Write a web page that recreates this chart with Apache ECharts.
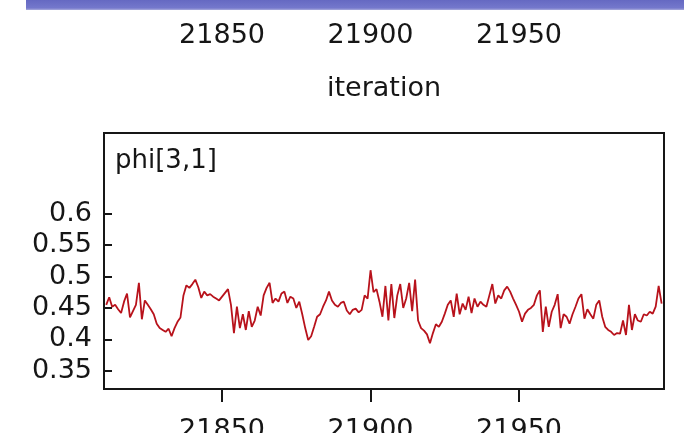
<!DOCTYPE html>
<html>
<head>
<meta charset="utf-8">
<script src="https://cdn.jsdelivr.net/npm/echarts@6/dist/echarts.min.js"></script>
<style>
  html, body { margin: 0; padding: 0; background: #ffffff; }
  #chart { width: 684px; height: 433px; }
</style>
</head>
<body>
<div id="chart"></div>
<script>
// MCMC history trace for phi[3,1], iterations 21811..21998
const firstIteration = 21811;
const phiValues = [
  0.455, 0.467, 0.452, 0.455, 0.448, 0.442, 0.460, 0.473, 0.435, 0.445,
  0.455, 0.490, 0.432, 0.462, 0.455, 0.448, 0.440, 0.425, 0.418, 0.415,
  0.412, 0.417, 0.405, 0.418, 0.428, 0.435, 0.470, 0.486, 0.482, 0.488,
  0.495, 0.483, 0.466, 0.476, 0.470, 0.472, 0.468, 0.465, 0.462, 0.468,
  0.474, 0.480, 0.455, 0.410, 0.452, 0.418, 0.440, 0.415, 0.445, 0.420,
  0.430, 0.452, 0.438, 0.470, 0.482, 0.490, 0.458, 0.465, 0.460, 0.473,
  0.476, 0.458, 0.468, 0.465, 0.450, 0.460, 0.440, 0.418, 0.399, 0.405,
  0.420, 0.436, 0.440, 0.452, 0.462, 0.476, 0.462, 0.455, 0.452, 0.458,
  0.460, 0.446, 0.440, 0.447, 0.449, 0.443, 0.447, 0.470, 0.465, 0.510,
  0.475, 0.480, 0.460, 0.436, 0.485, 0.430, 0.488, 0.434, 0.470, 0.488,
  0.450, 0.465, 0.490, 0.445, 0.495, 0.430, 0.418, 0.414, 0.408, 0.394,
  0.410, 0.424, 0.420, 0.428, 0.441, 0.455, 0.462, 0.436, 0.473, 0.440,
  0.457, 0.447, 0.468, 0.442, 0.465, 0.452, 0.460, 0.455, 0.452, 0.470,
  0.488, 0.457, 0.470, 0.465, 0.478, 0.484, 0.476, 0.465, 0.455, 0.444,
  0.428, 0.441, 0.447, 0.450, 0.455, 0.470, 0.478, 0.412, 0.452, 0.420,
  0.444, 0.455, 0.472, 0.418, 0.440, 0.436, 0.425, 0.440, 0.452, 0.465,
  0.472, 0.433, 0.448, 0.440, 0.433, 0.455, 0.462, 0.436, 0.420, 0.415,
  0.412, 0.407, 0.410, 0.409, 0.430, 0.407, 0.455, 0.415, 0.440, 0.430,
  0.428, 0.440, 0.438, 0.444, 0.441, 0.452, 0.485, 0.457
];
const iterationTicks = [21850, 21900, 21950];
const phiTicks = [0.35, 0.4, 0.45, 0.5, 0.55, 0.6];
const iterationRange = [21810.25, 21998.8];
const phiRange = [0.3211, 0.7283];
const seriesLabel = 'phi[3,1]';
const axisTitle = 'iteration';

const tracePoints = phiValues.map((v, i) => [firstIteration + i, v]);

const FONT = 'DejaVu Sans';
const INK = '#161616';

const chart = echarts.init(document.getElementById('chart'), null, { renderer: 'canvas' });

chart.setOption({
  backgroundColor: '#ffffff',
  animation: false,
  title: {
    text: seriesLabel,
    left: 115,
    top: 148,
    padding: 0,
    textStyle: { fontFamily: FONT, fontSize: 26, fontWeight: 'normal', color: INK }
  },
  graphic: [{
    type: 'rect',
    shape: { x: 26, y: 0, width: 658, height: 10 },
    style: {
      fill: new echarts.graphic.LinearGradient(0, 0, 0, 1, [
        { offset: 0, color: '#6569c2' },
        { offset: 0.8, color: '#7478cc' },
        { offset: 1, color: '#a9acdc' }
      ])
    },
    silent: true
  }],
  grid: [
    // upper panel: only its iteration axis is in view
    { left: 104, right: 20, top: -50, height: 60, show: false,
      outerBoundsMode: 'none', containLabel: false },
    // phi[3,1] panel
    { left: 104, right: 20, top: 133, bottom: 44, show: true,
      outerBoundsMode: 'none', containLabel: false,
      borderColor: INK, borderWidth: 2, backgroundColor: '#ffffff' }
  ],
  xAxis: [
    {
      gridIndex: 0, type: 'value', min: iterationRange[0], max: iterationRange[1],
      axisLine: { show: false }, axisTick: { show: false }, splitLine: { show: false },
      axisLabel: {
        customValues: iterationTicks, margin: 12,
        fontFamily: FONT, fontSize: 27, color: INK,
        formatter: v => String(v)
      },
      name: axisTitle, nameLocation: 'middle', nameGap: 65,
      nameTextStyle: { fontFamily: FONT, fontSize: 27, color: INK }
    },
    {
      gridIndex: 1, type: 'value', min: iterationRange[0], max: iterationRange[1],
      axisLine: { show: false }, splitLine: { show: false },
      axisTick: {
        show: true, inside: false, length: 13, customValues: iterationTicks,
        lineStyle: { color: INK, width: 2 }
      },
      axisLabel: {
        customValues: iterationTicks, margin: 28,
        fontFamily: FONT, fontSize: 27, color: INK,
        formatter: v => String(v)
      }
    }
  ],
  yAxis: [
    { gridIndex: 0, type: 'value', show: false, min: 0, max: 1 },
    {
      gridIndex: 1, type: 'value', min: phiRange[0], max: phiRange[1],
      axisLine: { show: false }, splitLine: { show: false },
      axisTick: {
        show: true, inside: true, length: 8, customValues: phiTicks,
        lineStyle: { color: INK, width: 2 }
      },
      axisLabel: {
        customValues: phiTicks, margin: 12,
        fontFamily: FONT, fontSize: 27, color: INK,
        formatter: v => String(+v.toFixed(2))
      }
    }
  ],
  series: [{
    type: 'line',
    name: seriesLabel,
    xAxisIndex: 1,
    yAxisIndex: 1,
    data: tracePoints,
    showSymbol: false,
    clip: true,
    lineStyle: { color: '#b8121b', width: 1.8 }
  }]
});
</script>
</body>
</html>
